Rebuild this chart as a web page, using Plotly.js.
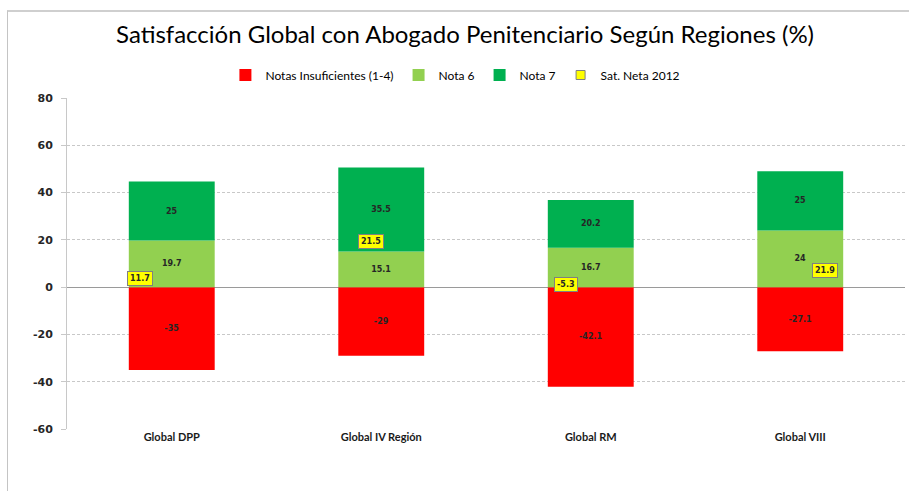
<!DOCTYPE html>
<html>
<head>
<meta charset="utf-8">
<script src="https://cdn.plot.ly/plotly-3.0.1.min.js"></script>
<style>
  html, body { margin: 0; padding: 0; background: #fff; }
  #wrap { position: relative; width: 909px; height: 491px; overflow: hidden; }
  #chart { position: absolute; left: 0; top: 0; width: 909px; height: 491px; }
  #frame { position: absolute; left: 7px; top: 10px; width: 1000px; height: 1000px;
           border-left: 1px solid #c4c4c4; border-top: 2px solid #cfcfcf; pointer-events: none; }
</style>
</head>
<body>
<div id="wrap">
  <div id="chart"></div>
  <div id="frame"></div>
</div>
<script>
// ---- data ----
const categories = ["Global DPP", "Global IV Región", "Global RM", "Global VIII"];
const notasInsuficientes = [-35, -29, -42.1, -27.1];
const nota6 = [19.7, 15.1, 16.7, 24];
const nota7 = [25, 35.5, 20.2, 25];
const satNeta2012 = [11.7, 21.5, -5.3, 21.9];
const yTicks = [-60, -40, -20, 0, 20, 40, 60, 80];

// ---- styling (label placements for Sat. Neta boxes, in pixels) ----
const satLabelShiftX = [-32, -10, -25, 25];
const satLabelShiftY = [-19, -5, 15, -35];

const barText = {family: "DejaVu Sans", size: 8, color: "#262626", weight: "bold"};

function barTrace(name, vals, color) {
  return {
    type: "bar", name: name, x: categories, y: vals,
    marker: {color: color},
    text: vals.map(v => String(v)), textposition: "inside",
    insidetextanchor: "middle", textangle: 0,
    textfont: barText, constraintext: "none",
    hoverinfo: "x+y+name"
  };
}

const traces = [
  barTrace("Notas Insuficientes (1-4)", notasInsuficientes, "#FF0000"),
  barTrace("Nota 6", nota6, "#92D050"),
  barTrace("Nota 7", nota7, "#00B050"),
  {
    type: "scatter", mode: "markers", name: "Sat. Neta 2012",
    x: categories, y: satNeta2012, showlegend: false,
    marker: {color: "rgba(0,0,0,0)", size: 1}
  },
  {
    type: "scatter", mode: "markers", name: "Sat. Neta 2012",
    x: [categories[0]], y: [null],
    marker: {symbol: "square", size: 9, color: "#FFFF00", line: {color: "#808080", width: 1}}
  }
];

const annotations = categories.map((c, i) => ({
  x: c, y: satNeta2012[i], xref: "x", yref: "y",
  text: String(satNeta2012[i]), showarrow: false,
  xshift: satLabelShiftX[i], yshift: satLabelShiftY[i],
  font: {family: "DejaVu Sans", size: 8, color: "#262626", weight: "bold"},
  bgcolor: "#FFFF00", bordercolor: "#808080", borderwidth: 1, borderpad: 2
}));

const layout = {
  width: 909, height: 491,
  margin: {l: 67, r: 4, t: 98, b: 62},
  paper_bgcolor: "#ffffff", plot_bgcolor: "#ffffff",
  barmode: "relative", bargap: 0.59,
  title: {
    text: "Satisfacción Global con Abogado Penitenciario Según Regiones (%)",
    font: {family: "Lato", size: 24, color: "#000000"},
    xref: "container", yref: "container", x: 0.5116, xanchor: "center",
    y: 1 - 35 / 491, yanchor: "middle"
  },
  legend: {
    orientation: "h", xref: "container", yref: "container",
    x: 0.501, xanchor: "center", y: 1 - 75 / 491, yanchor: "middle",
    font: {family: "Lato", size: 12, color: "#000000"},
    traceorder: "normal", itemwidth: 30
  },
  xaxis: {
    type: "category", showgrid: false, zeroline: false, showline: false,
    ticks: "", tickfont: {family: "Lato", size: 11, color: "#1a1a1a", weight: "bold"},
    fixedrange: true
  },
  yaxis: {
    range: [-60, 80], tickvals: yTicks, ticktext: yTicks.map(String),
    showgrid: true, gridcolor: "#c8c8c8", griddash: "3px,2px", gridwidth: 1,
    zeroline: true, zerolinecolor: "#9a9a9a", zerolinewidth: 1,
    showline: true, linecolor: "#c8c8c8", linewidth: 1,
    ticks: "outside", ticklen: 5, tickcolor: "#c8c8c8",
    ticklabelstandoff: 6,
    tickfont: {family: "DejaVu Sans", size: 11, color: "#262626", weight: "bold"},
    fixedrange: true
  },
  annotations: annotations,
  showlegend: true
};

Plotly.newPlot("chart", traces, layout, {displayModeBar: false, staticPlot: true});
</script>
</body>
</html>
